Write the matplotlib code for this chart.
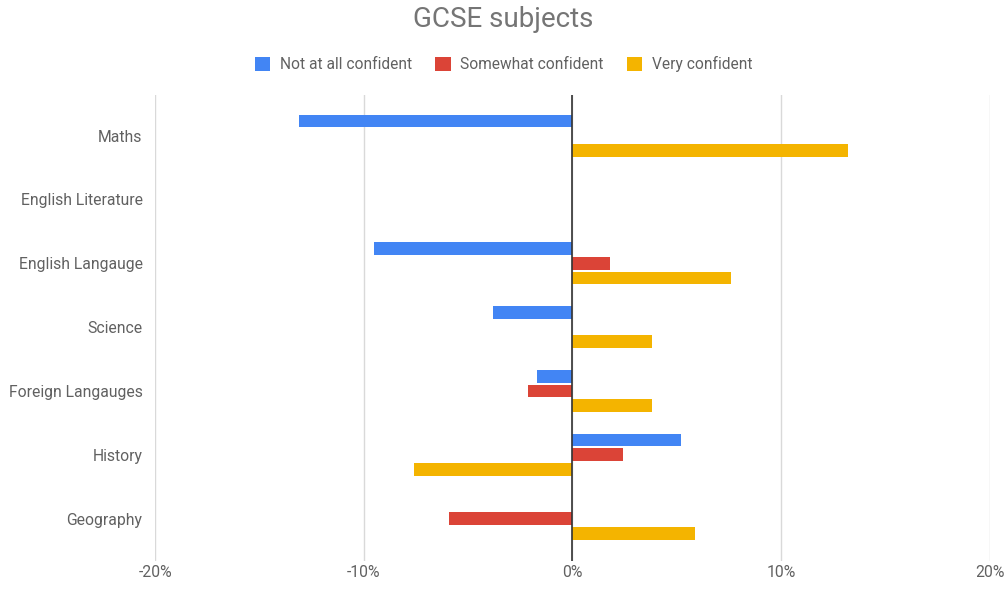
import numpy as np
import matplotlib.pyplot as plt
from matplotlib.ticker import FuncFormatter

plt.rcParams['font.family'] = ['Roboto', 'DejaVu Sans']

subjects = ['Maths', 'English Literature', 'English Langauge', 'Science',
            'Foreign Langauges', 'History', 'Geography']
not_confident = [-13.1, 0, -9.5, -3.8, -1.7, 5.2, 0]
somewhat_confident = [0, 0, 1.8, 0, -2.15, 2.4, -5.9]
very_confident = [13.2, 0, 7.6, 3.8, 3.8, -7.6, 5.85]

series = [('Not at all confident', not_confident, '#4285F4'),
          ('Somewhat confident', somewhat_confident, '#DB4437'),
          ('Very confident', very_confident, '#F4B400')]

fig = plt.figure(figsize=(10.07, 5.89), dpi=100)
ax = fig.add_axes([0.154, 0.048, 0.829, 0.791])

y = np.arange(len(subjects))
bar_h = 0.2
step = 0.23
for i, (name, vals, color) in enumerate(series):
    ax.barh(y + (i - 1) * step, vals, height=bar_h, color=color, label=name, zorder=3)

ax.set_xlim(-20, 20)
ax.set_ylim(6.66, -0.64)
ax.set_xticks([-20, -10, 0, 10, 20])
ax.xaxis.set_major_formatter(FuncFormatter(lambda v, p: f'{v:.0f}%'))
ax.set_yticks(y)
ax.set_yticklabels(subjects)
ax.grid(axis='x', color='#d9d9d9', linewidth=1, zorder=0)
ax.axvline(0, color='#333333', linewidth=1.2, zorder=4)
for s in ax.spines.values():
    s.set_visible(False)
ax.tick_params(length=0, labelsize=11.3, colors='#616161')
ax.tick_params(axis='y', pad=9)
ax.tick_params(axis='x', pad=3)

fig.suptitle('GCSE subjects', y=0.99, fontsize=20, color='#757575')
fig.legend(loc='center', bbox_to_anchor=(0.5, 0.891), ncol=3, frameon=False,
           fontsize=11.2, labelcolor='#616161', handlelength=1.0, handleheight=1.0,
           handletextpad=0.6, columnspacing=1.5)

fig.savefig('out.png', dpi=100)
